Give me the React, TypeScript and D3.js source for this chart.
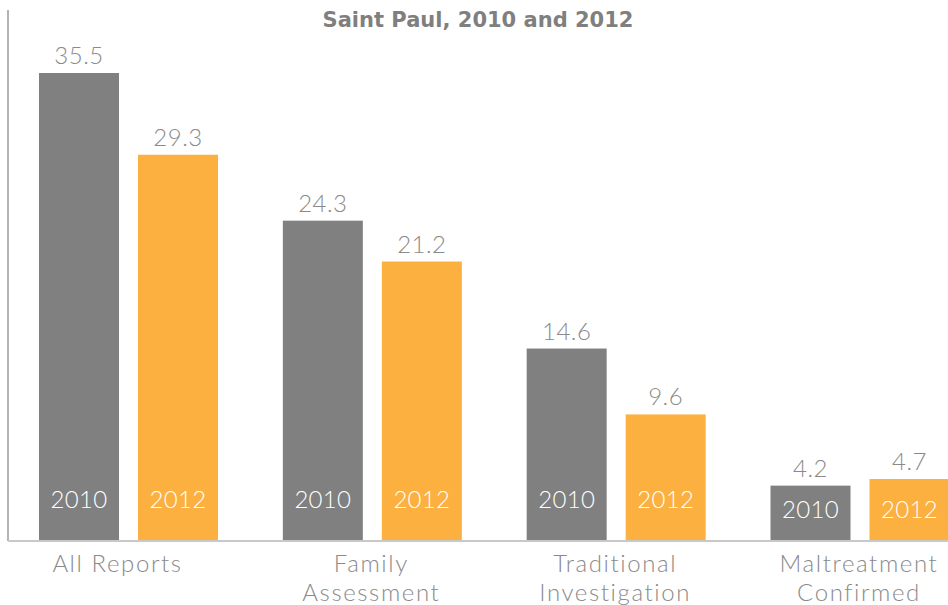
import React from "react";
import * as d3 from "d3";

const categories = ["All Reports", "Family Assessment", "Traditional Investigation", "Maltreatment Confirmed"];
const categoryLines = [["All Reports"], ["Family", "Assessment"], ["Traditional", "Investigation"], ["Maltreatment", "Confirmed"]];
const seriesNames = ["2010", "2012"];
const values2010 = [35.5, 24.3, 14.6, 4.2];
const values2012 = [29.3, 21.2, 9.6, 4.7];
const titleText = "Saint Paul, 2010 and 2012";

const W = 948;
const H = 605;
const baseline = 541;
const colors: Record<string, string> = { "2010": "#808080", "2012": "#FBB040" };
const FONT = "Lato, 'Open Sans', sans-serif";

export default function App() {
  const y = d3.scaleLinear().domain([0, 35.5]).range([baseline, 73]);
  const x0 = d3.scalePoint<string>().domain(categories).range([128.5, 860]);
  const x1 = d3.scaleBand<string>().domain(seriesNames).range([-89.5, 89.5]).paddingInner(19 / 99).paddingOuter(0);
  const series = [values2010, values2012];

  return (
    <svg width={W} height={H} style={{ position: "absolute", left: 0, top: 0, display: "block", background: "#fff" }} fontFamily={FONT}>
      <text x={478} y={27} textAnchor="middle" fontSize={21} fontWeight={700} fill="#7f7f7f" fontFamily="'DejaVu Sans', sans-serif">{titleText}</text>
      <line x1={8} x2={8} y1={10} y2={baseline} stroke="#9a9a9a" strokeWidth={1.5} />
      {categories.map((c, i) => (
        <g key={c}>
          {seriesNames.map((s, j) => {
            const v = series[j][i];
            const bx = (x0(c) as number) + (x1(s) as number);
            const bw = x1.bandwidth();
            const top = y(v);
            const h = baseline - top;
            const labelY = h < 80 ? baseline - 23 : baseline - 33;
            return (
              <g key={s}>
                <rect x={bx} y={top} width={bw} height={h} fill={colors[s]} />
                <text x={bx + bw / 2} y={top - 9} textAnchor="middle" fontSize={24} fontWeight={300} fill="#8a8a8a" letterSpacing={0.5}>{String(v.toFixed(1))}</text>
                <text x={bx + bw / 2} y={labelY} textAnchor="middle" fontSize={24} fontWeight={300} fill="#ffffff" letterSpacing={0.3}>{s}</text>
              </g>
            );
          })}
          {categoryLines[i].map((ln, k) => (
            <text key={k} x={(x0(c) as number) - (i === 0 ? 10 : 0) - 1} y={572 + k * 29} textAnchor="middle" fontSize={24} fontWeight={300} fill="#8a8a8a" letterSpacing={1.6}>{ln}</text>
          ))}
        </g>
      ))}
      <line x1={8} x2={W} y1={baseline} y2={baseline} stroke="#c8c8c8" strokeWidth={2} />
    </svg>
  );
}
